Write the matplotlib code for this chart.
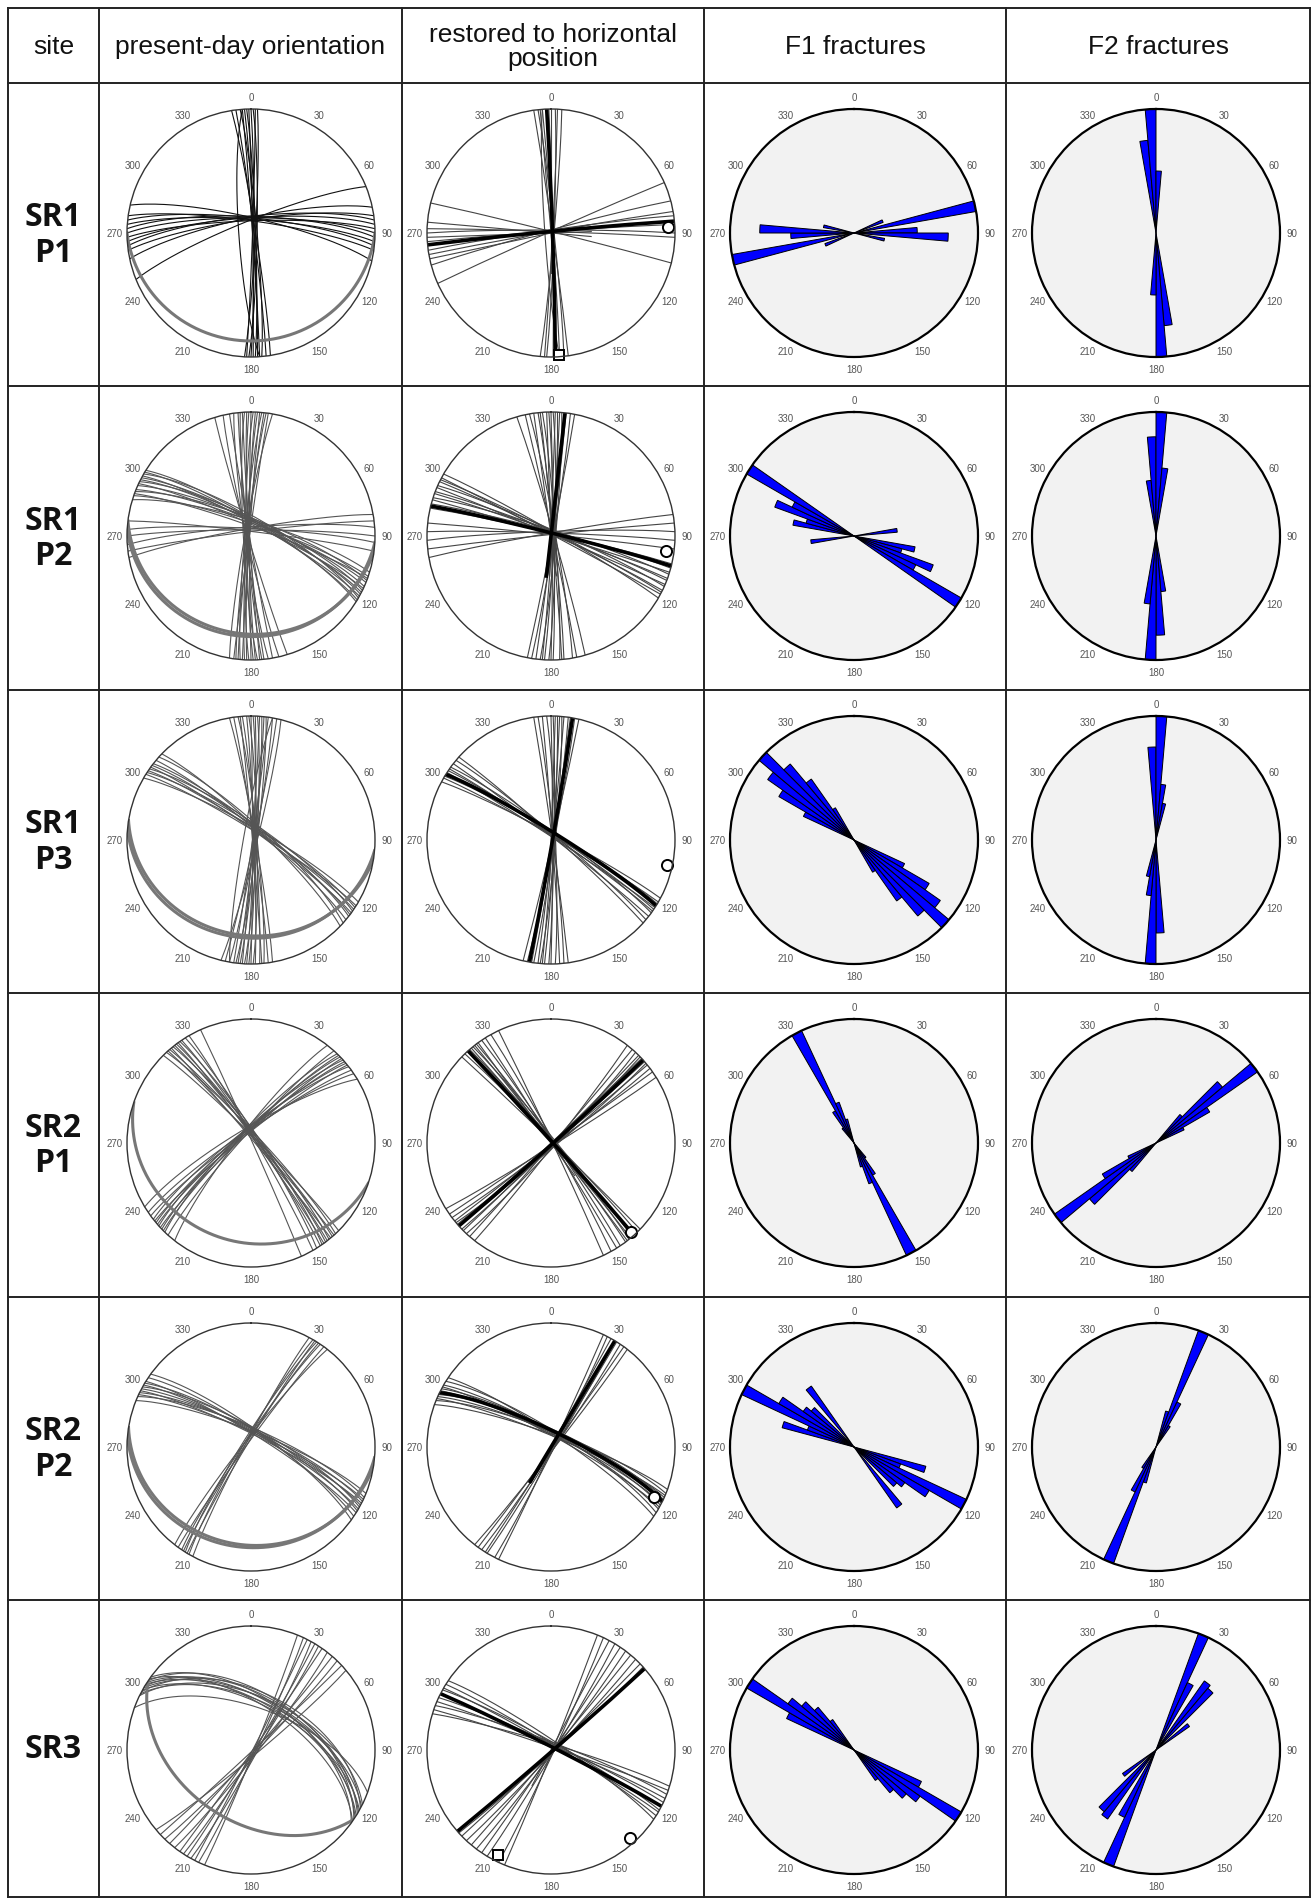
import numpy as np
import matplotlib.pyplot as plt

plt.rcParams['font.family'] = ['Liberation Sans', 'DejaVu Sans']

# ---- table layout (pixels) ----
W, H = 1314, 1899
col_x = [8, 99, 402, 704, 1006, 1310]
row_y = [9, 84, 387, 691, 994, 1298, 1601, 1898]
net_cx = [251, 551, 854, 1156]
R = 124

headers = ['site', 'present-day orientation', 'restored to horizontal\nposition',
           'F1 fractures', 'F2 fractures']
sites = ['SR1\nP1', 'SR1\nP2', 'SR1\nP3', 'SR2\nP1', 'SR2\nP2', 'SR3']

# ---- planes as (strike, dip), right-hand rule ----
# SR1 P1
sr1p1_now = [(351, 87), (353, 88), (355, 86), (356, 89), (357, 88), (358, 87), (359, 89),
             (0, 88), (1, 86), (2, 89), (3, 87), (176, 82),
             (248, 82), (258, 80), (262, 81), (264, 79), (266, 80), (268, 82), (270, 80),
             (272, 79), (274, 81), (276, 80), (278, 82), (283, 80)]
sr1p1_bed = [(90, 14)]
sr1p1_rest = [(352, 89), (354, 88), (355, 90), (356, 89), (359, 89), (0, 90), (2, 88),
              (3, 89), (5, 88), (176, 86),
              (246, 89), (255, 88), (258, 90), (260, 89), (262, 88), (266, 89), (268, 90),
              (270, 88), (272, 89), (275, 90), (284, 89)]
sr1p1_mean = [(358, 89), (264.5, 89)]
sr1p1_circ = [(87, 6)]
sr1p1_sq = [(176, 2)]

# SR1 P2
sr1p2_now = [(163, 88), (167, 87), (170, 89), (172, 86), (174, 88), (175, 87), (176, 89),
             (177, 85), (178, 88), (179, 87), (180, 89), (181, 86), (182, 88), (183, 87),
             (184, 89), (185, 86), (186, 88), (187, 87), (188, 89), (190, 86),
             (287, 80), (289, 82), (290, 84), (291, 79), (292, 81), (294, 80), (295, 83),
             (296, 79), (297, 81), (298, 80), (299, 82), (300, 78), (301, 81), (302, 80),
             (260, 85), (263, 87), (266, 84), (270, 86), (273, 85), (277, 87)]
sr1p2_bed = [(93, 20), (97, 22)]
sr1p2_rest = [(344, 88), (348, 89), (350, 87), (352, 90), (354, 88), (355, 89), (356, 87),
              (358, 90), (359, 88), (0, 89), (1, 87), (2, 90), (3, 88), (4, 89), (5, 87),
              (7, 89), (9, 88), (11, 89),
              (283, 88), (285, 87), (287, 89), (288, 86), (290, 88), (291, 87), (293, 89),
              (294, 86), (296, 88), (297, 87), (298, 89), (300, 87),
              (260, 88), (264, 89), (268, 87), (272, 88), (276, 89)]
sr1p2_mean = [(6.5, 90), (284, 88)]
sr1p2_circ = [(97.5, 7)]
sr1p2_sq = []

# SR1 P3
sr1p3_now = [(350, 87), (352, 88), (354, 86), (355, 89), (356, 87), (358, 88), (359, 86),
             (0, 89), (1, 87), (2, 88), (3, 86), (4, 89), (5, 87), (6, 88), (7, 86),
             (8, 89), (10, 87), (12, 88), (14, 86), (190, 85),
             (300, 82), (302, 84), (303, 81), (304, 83), (305, 80), (306, 84), (307, 82),
             (308, 81), (310, 83), (312, 80), (314, 82)]
sr1p3_bed = [(95, 22), (99, 24)]
sr1p3_rest = [(352, 89), (354, 88), (356, 89), (358, 87), (0, 89), (1, 88), (2, 90),
              (3, 88), (4, 89), (5, 87), (6, 89), (8, 88), (9, 89), (11, 88), (13, 89),
              (298, 86), (300, 87), (301, 85), (303, 88), (304, 86), (305, 87), (306, 85),
              (308, 88), (310, 86), (312, 87)]
sr1p3_mean = [(10, 89), (302, 85)]
sr1p3_circ = [(102, 5)]
sr1p3_sq = []

# SR2 P1
sr2p1_now = [(315, 86), (317, 84), (318, 87), (319, 85), (320, 88), (321, 84), (322, 86),
             (323, 85), (324, 87), (325, 84), (326, 86), (328, 85), (330, 87), (336, 89),
             (218, 82), (222, 84), (224, 81), (225, 83), (226, 82), (227, 84), (228, 81),
             (229, 83), (230, 82), (231, 84), (232, 81), (234, 83), (236, 82), (239, 80)]
sr2p1_bed = [(109, 21)]
sr2p1_rest = [(314, 89), (316, 88), (318, 90), (319, 88), (320, 89), (321, 87), (322, 89),
              (323, 88), (324, 90), (326, 88), (328, 89), (331, 88), (335, 89),
              (38, 88), (41, 89), (43, 87), (45, 89), (46, 88), (47, 90), (48, 88), (49, 89),
              (50, 87), (51, 89), (53, 88), (55, 89), (58, 88)]
sr2p1_mean = [(318, 89), (48, 89)]
sr2p1_circ = [(138, 4)]
sr2p1_sq = []

# SR2 P2
sr2p2_now = [(292, 80), (294, 78), (295, 81), (296, 79), (297, 82), (298, 80), (299, 78),
             (300, 81), (301, 79), (302, 82), (304, 80), (306, 79),
             (208, 86), (210, 85), (211, 87), (212, 84), (213, 86), (214, 85), (216, 87),
             (218, 85)]
sr2p2_bed = [(95, 20), (99, 22)]
sr2p2_rest = [(290, 82), (292, 80), (293, 83), (294, 81), (295, 79), (297, 82), (298, 80),
              (299, 83), (300, 81), (302, 80), (304, 82),
              (25, 89), (27, 88), (29, 90), (31, 88), (32, 89), (34, 88), (36, 89), (38, 88)]
sr2p2_mean = [(31, 90), (296, 80)]
sr2p2_circ = [(116, 8)]
sr2p2_sq = []

# SR3
sr3_now = [(22, 88), (25, 87), (27, 89), (29, 86), (31, 88), (33, 87), (35, 89), (38, 86),
           (41, 88), (44, 87), (47, 89), (50, 86),
           (296, 55), (297, 58), (298, 52), (299, 60), (300, 56), (301, 54), (302, 59),
           (303, 57), (304, 53), (305, 61), (306, 56), (290, 62)]
sr3_bed = [(124, 42)]
sr3_rest = [(22, 89), (25, 88), (28, 90), (31, 88), (34, 89), (37, 88), (40, 89), (43, 88),
            (46, 89), (48, 88),
            (287, 86), (289, 88), (291, 85), (293, 87), (295, 86), (297, 88), (299, 85),
            (300, 87), (302, 86), (304, 84)]
sr3_mean = [(49, 89), (297, 88)]
sr3_circ = [(138, 5)]
sr3_sq = [(207, 6)]

present = [sr1p1_now, sr1p2_now, sr1p3_now, sr2p1_now, sr2p2_now, sr3_now]
bedding = [sr1p1_bed, sr1p2_bed, sr1p3_bed, sr2p1_bed, sr2p2_bed, sr3_bed]
restored = [sr1p1_rest, sr1p2_rest, sr1p3_rest, sr2p1_rest, sr2p2_rest, sr3_rest]
means = [sr1p1_mean, sr1p2_mean, sr1p3_mean, sr2p1_mean, sr2p2_mean, sr3_mean]
circ_poles = [sr1p1_circ, sr1p2_circ, sr1p3_circ, sr2p1_circ, sr2p2_circ, sr3_circ]
sq_poles = [sr1p1_sq, sr1p2_sq, sr1p3_sq, sr2p1_sq, sr2p2_sq, sr3_sq]

# ---- rose diagrams: 5 degree bins (bin start, relative length) ----
f1_bins = [
    [65, 75, 85, 90, 100],
    [80, 100, 105, 110, 115, 120],
    [115, 120, 125, 130, 135, 140, 145],
    [140, 145, 150, 155, 160],
    [105, 110, 115, 120, 125, 130, 140],
    [115, 120, 125, 130, 135, 140],
]
f1_len = [
    [0.25, 1.0, 0.51, 0.76, 0.25],
    [0.35, 0.5, 0.4, 0.68, 0.55, 1.0],
    [0.45, 0.7, 0.85, 1.0, 0.8, 0.6, 0.3],
    [0.15, 0.3, 1.0, 0.35, 0.2],
    [0.6, 0.4, 1.0, 0.7, 0.5, 0.45, 0.6],
    [0.6, 1.0, 0.65, 0.55, 0.45, 0.3],
]
f2_bins = [
    [350, 355, 0],
    [350, 355, 0, 5],
    [355, 0, 5, 10],
    [40, 45, 50, 55, 60],
    [15, 20, 25, 30],
    [20, 25, 35, 40, 50],
]
f2_len = [
    [0.75, 1.0, 0.5],
    [0.45, 0.8, 1.0, 0.55],
    [0.75, 1.0, 0.45, 0.3],
    [0.3, 0.7, 1.0, 0.5, 0.25],
    [0.3, 1.0, 0.4, 0.2],
    [1.0, 0.6, 0.68, 0.65, 0.33],
]


def great_circle(strike, dip):
    t = np.linspace(0, 180, 241)
    plunge = np.degrees(np.arctan(np.tan(np.radians(dip)) * np.sin(np.radians(t))))
    r = np.sqrt(2) * np.sin(np.radians(90 - plunge) / 2)
    return np.radians(strike + t), r


def pole_pos(trend, plunge):
    return np.radians(trend), np.sqrt(2) * np.sin(np.radians(90 - plunge) / 2)


def make_polar(cx, cy):
    ax = fig.add_axes([(cx - R) / W, 1 - (cy + R) / H, 2 * R / W, 2 * R / H], projection='polar')
    ax.set_theta_zero_location('N')
    ax.set_theta_direction(-1)
    ax.set_ylim(0, 1)
    ax.set_xticks([])
    ax.set_yticks([])
    ax.grid(False)
    for a in range(0, 360, 30):
        ax.text(np.radians(a), 1.1, str(a), fontsize=7, color='#555555',
                ha='center', va='center', clip_on=False)
    return ax


fig = plt.figure(figsize=(W / 100, H / 100), dpi=100)
tab = fig.add_axes([0, 0, 1, 1])
tab.set_xlim(0, W)
tab.set_ylim(H, 0)
tab.axis('off')

for x in col_x:
    tab.plot([x, x], [row_y[0], row_y[-1]], color='#222222', lw=1.4)
for y in row_y:
    tab.plot([col_x[0], col_x[-1]], [y, y], color='#222222', lw=1.4)

hy = (row_y[0] + row_y[1]) / 2
for i, h in enumerate(headers):
    tab.text((col_x[i] + col_x[i + 1]) / 2, hy, h, fontsize=19, ha='center', va='center',
             linespacing=1.0, color='#111111')

for j, s in enumerate(sites):
    cy = (row_y[j + 1] + row_y[j + 2]) / 2
    tab.text((col_x[0] + col_x[1]) / 2, cy, s, fontsize=23, fontweight='bold',
             family=['Open Sans', 'DejaVu Sans'], ha='center', va='center',
             linespacing=1.1, color='#111111')

for j in range(6):
    cy = row_y[j + 1] + 150

    # present-day orientation
    ax = make_polar(net_cx[0], cy)
    ax.spines['polar'].set(color='#333333', lw=1.0)
    line_col = '#111111' if j == 0 else '#555555'
    for s, d in present[j]:
        th, r = great_circle(s, d)
        ax.plot(th, r, color=line_col, lw=0.8)
    for s, d in bedding[j]:
        th, r = great_circle(s, d)
        ax.plot(th, r, color='#777777', lw=2.2)

    # restored to horizontal
    ax = make_polar(net_cx[1], cy)
    ax.spines['polar'].set(color='#333333', lw=1.0)
    for s, d in restored[j]:
        th, r = great_circle(s, d)
        ax.plot(th, r, color='#444444', lw=0.8)
    for s, d in means[j]:
        th, r = great_circle(s, d)
        ax.plot(th, r, color='black', lw=2.6)
    for t, p in circ_poles[j]:
        th, r = pole_pos(t, p)
        ax.plot(th, r, 'o', ms=8, mfc='white', mec='black', mew=1.4, clip_on=False)
    for t, p in sq_poles[j]:
        th, r = pole_pos(t, p)
        ax.plot(th, r, 's', ms=7, mfc='white', mec='black', mew=1.4, clip_on=False)

    # F1 and F2 rose diagrams
    for k, (bins, lens) in enumerate([(f1_bins[j], f1_len[j]), (f2_bins[j], f2_len[j])]):
        ax = make_polar(net_cx[2 + k], cy)
        ax.set_facecolor('#f2f2f2')
        ax.spines['polar'].set(color='black', lw=1.6)
        b = np.array(bins, dtype=float) + 2.5
        for off in (0, 180):
            ax.bar(np.radians(b + off), lens, width=np.radians(5), bottom=0,
                   color='#0000ff', edgecolor='black', lw=0.7)

fig.savefig('out.png', dpi=100)
